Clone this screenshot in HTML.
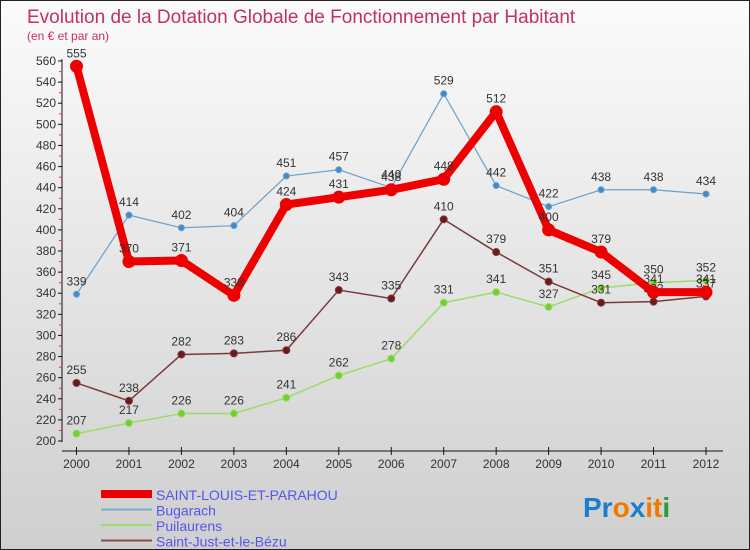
<!DOCTYPE html>
<html><head><meta charset="utf-8"><style>
body{margin:0}
#c{width:750px;height:550px;position:relative;background:linear-gradient(#fbfbfb,#cfcfcf);box-sizing:border-box;border:1px solid #222;overflow:hidden;font-family:"Liberation Sans",sans-serif}
svg{position:absolute;left:0;top:0}
</style></head><body>
<div id="c">
<svg id="s" width="750" height="550">
<text x="26" y="22" font-size="19" fill="#c0325f">Evolution de la Dotation Globale de Fonctionnement par Habitant</text>
<text x="26" y="39" font-size="12" fill="#c0325f">(en € et par an)</text>
<g font-size="28" font-weight="bold">
<text x="582" y="516"><tspan fill="#1a7ed0">Pr</tspan><tspan fill="#f07a00">o</tspan><tspan fill="#1a7ed0">x</tspan><tspan fill="#f07a00">it</tspan><tspan fill="#2a9a3a">i</tspan></text>
</g>
</svg>
</div>
<script>
const years=[2000,2001,2002,2003,2004,2005,2006,2007,2008,2009,2010,2011,2012];
const yTicks=[200,220,240,260,280,300,320,340,360,380,400,420,440,460,480,500,520,540,560];
const saintLouis=[555,370,371,338,424,431,438,448,512,400,379,341,341];
const bugarach=[339,414,402,404,451,457,440,529,442,422,438,438,434];
const puilaurens=[207,217,226,226,241,262,278,331,341,327,345,350,352];
const saintJust=[255,238,282,283,286,343,335,410,379,351,331,332,337];
const seriesNames=["SAINT-LOUIS-ET-PARAHOU","Bugarach","Puilaurens","Saint-Just-et-le-Bézu"];
const svg=document.getElementById('s');const NS='http://www.w3.org/2000/svg';
function X(i){return 75.5+i*(705-75.5)/(years.length-1);}
function Y(v){return 440-(v-200)*380/360;}
function mk(t,a,p){const e=document.createElementNS(NS,t);for(const k in a)e.setAttribute(k,a[k]);(p||svg).appendChild(e);return e;}
// axes
const ax=mk('g',{});


mk('line',{x1:61,y1:58,x2:61,y2:441,stroke:'#111','stroke-width':1},ax);
mk('line',{x1:61,y1:450,x2:722,y2:450,stroke:'#111','stroke-width':1},ax);
yTicks.forEach(v=>{const y=Y(v);
 mk('line',{x1:57,y1:y,x2:61,y2:y,stroke:'#111'},ax);
 if(v<560)mk('line',{x1:58,y1:y-10.5,x2:61,y2:y-10.5,stroke:'#e33'},ax);
 const t=mk('text',{x:55,y:y+4,'font-size':12,fill:'#333','text-anchor':'end'},ax);t.textContent=v;
 
 });
years.forEach((yr,i)=>{const x=X(i);
 mk('line',{x1:x,y1:446,x2:x,y2:454,stroke:'#111'},ax);
 const t=mk('text',{x:x,y:467,'font-size':12,fill:'#333','text-anchor':'middle'},ax);t.textContent=yr;
 
 });
function series(data,color,dot,w,r,name){
 const g=mk('g',{});
 
 
 mk('polyline',{points:data.map((v,i)=>X(i)+','+Y(v)).join(' '),fill:'none',stroke:color,'stroke-width':w,'stroke-linejoin':'round'},g);
 data.forEach((v,i)=>{const c=mk('circle',{cx:X(i),cy:Y(v),r:r,fill:dot,stroke:color,'stroke-width':1},g);
  
  
  const t=mk('text',{x:X(i),y:Y(v)-9,'font-size':12,fill:'#333','text-anchor':'middle'},g);t.textContent=v;
  
  });
}
series(puilaurens,'#99dd66','#77cc33',1.5,3.5,'series-puilaurens');
series(saintJust,'#7a3a3a','#6a1a1a',1.5,3.5,'series-saint-just');
series(bugarach,'#6aa0cc','#3c8cd0',1.2,3,'series-bugarach');
series(saintLouis,'#ee0000','#ee0000',8,6,'series-saint-louis');
// legend
const lg=mk('g',{});


const lc=[['#ee0000',8],['#7aaed0',2],['#99dd66',2],['#8a4a4a',2]];
seriesNames.forEach((n,i)=>{const y=493+i*15.5;
 const l=mk('line',{x1:100,y1:y,x2:151,y2:y,stroke:lc[i][0],'stroke-width':lc[i][1]},lg);
 
 
 const t=mk('text',{x:155,y:y+6,'font-size':14,fill:'#5555ee'},lg);t.textContent=n;
 
 });
</script>
</body></html>
